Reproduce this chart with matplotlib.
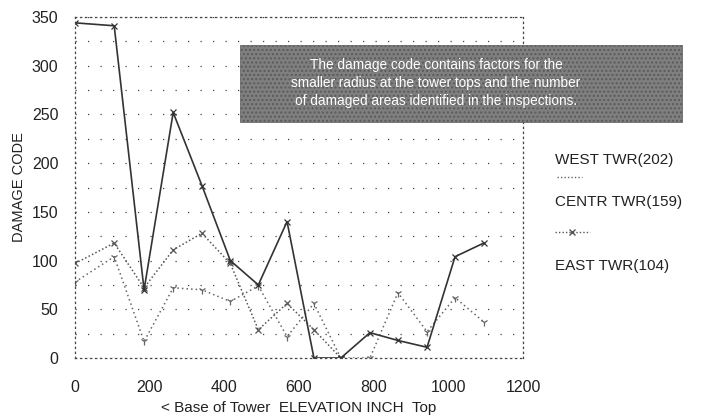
import matplotlib
matplotlib.use('Agg')
import matplotlib.pyplot as plt
from matplotlib.lines import Line2D
from matplotlib.patches import Rectangle
from matplotlib.ticker import MultipleLocator
import numpy as np

plt.rcParams['font.family'] = ['Liberation Sans', 'DejaVu Sans']

# elevation (inch) of each inspection point
elev = [0, 105, 185, 263, 340, 416, 491, 568, 640, 712, 790, 865, 943, 1018, 1095]

west = [344, 341, 70, 252, 177, 100, 75, 140, 0, 0, 26, 18, 11, 104, 118]
centr = [97, 118, 72, 111, 128, 97, 29, 56, 29, 0]
east = [78, 104, 17, 72, 70, 58, 74, 22, 56, 0, 0, 67, 27, 62, 37]

labels = ['WEST TWR(202)', 'CENTR TWR(159)', 'EAST TWR(104)']
note = ('The damage code contains factors for the\n'
        'smaller radius at the tower tops and the number\n'
        'of damaged areas identified in the inspections.')

W, H = 710, 420
fig = plt.figure(figsize=(W / 100, H / 100), dpi=100)
fig.patch.set_facecolor('white')

# axes box in pixels: x 75..523, y 17..358
ax = fig.add_axes([75 / W, 1 - 358 / H, (523 - 75) / W, (358 - 17) / H])
ax.set_xlim(0, 1200)
ax.set_ylim(0, 350)

dots = (0, (1, 3))
for s in ax.spines.values():
    s.set_linestyle(dots)
    s.set_color('#444444')
    s.set_linewidth(0.9)

ax.xaxis.set_major_locator(MultipleLocator(200))
ax.yaxis.set_major_locator(MultipleLocator(50))
ax.yaxis.set_minor_locator(MultipleLocator(25))
ax.grid(axis='y', which='both', linestyle=(0, (1, 9)), color='#444444', linewidth=0.9)
ax.tick_params(axis='both', which='both', length=0, labelsize=11.5, colors='#222222')
ax.tick_params(axis='x', pad=16)
ax.tick_params(axis='y', pad=12)
ax.set_axisbelow(True)

ax.plot(elev[:len(centr)], centr, linestyle=(0, (1, 1.5)), color='#555555', linewidth=1.1,
        marker='x', markersize=5, markeredgewidth=0.9)
ax.plot(elev, east, linestyle=(0, (1, 2)), color='#666666', linewidth=1.1,
        marker='1', markersize=6, markeredgewidth=0.9)
ax.plot(elev, west, linestyle='-', color='#333333', linewidth=1.2,
        marker='x', markersize=5, markeredgewidth=0.9)

ax.set_ylabel('DAMAGE CODE', fontsize=10.5, color='#222222', labelpad=4)
ax.set_xlabel('< Base of Tower  ELEVATION INCH  Top', fontsize=11, color='#222222', labelpad=4)

# note box
fig.add_artist(Rectangle((240 / W, 1 - 122 / H), (682 - 240) / W, (122 - 45) / H,
                         transform=fig.transFigure, facecolor='#7f7f7f',
                         edgecolor='#5a5a5a', hatch='....', linewidth=0.5, zorder=5))
fig.text(436 / W, 1 - 83 / H, note, ha='center', va='center', fontsize=9.8,
         color='white', linespacing=1.4, zorder=6)

# legend drawn by hand
fig.text(555 / W, 1 - 160 / H, labels[0], fontsize=11, color='#222222', va='center')
fig.add_artist(Line2D([557 / W, 582 / W], [1 - 177 / H, 1 - 177 / H], transform=fig.transFigure,
                      linestyle=(0, (1, 1.5)), color='#666666', linewidth=1.0))
fig.text(555 / W, 1 - 202 / H, labels[1], fontsize=11, color='#222222', va='center')
fig.add_artist(Line2D([555 / W, 572 / W, 590 / W], [1 - 232 / H] * 3, transform=fig.transFigure,
                      linestyle=(0, (1, 1.5)), color='#555555', linewidth=1.0,
                      marker='x', markevery=[1], markersize=5))
fig.text(555 / W, 1 - 266 / H, labels[2], fontsize=11, color='#222222', va='center')

fig.savefig('out.png', dpi=100)
